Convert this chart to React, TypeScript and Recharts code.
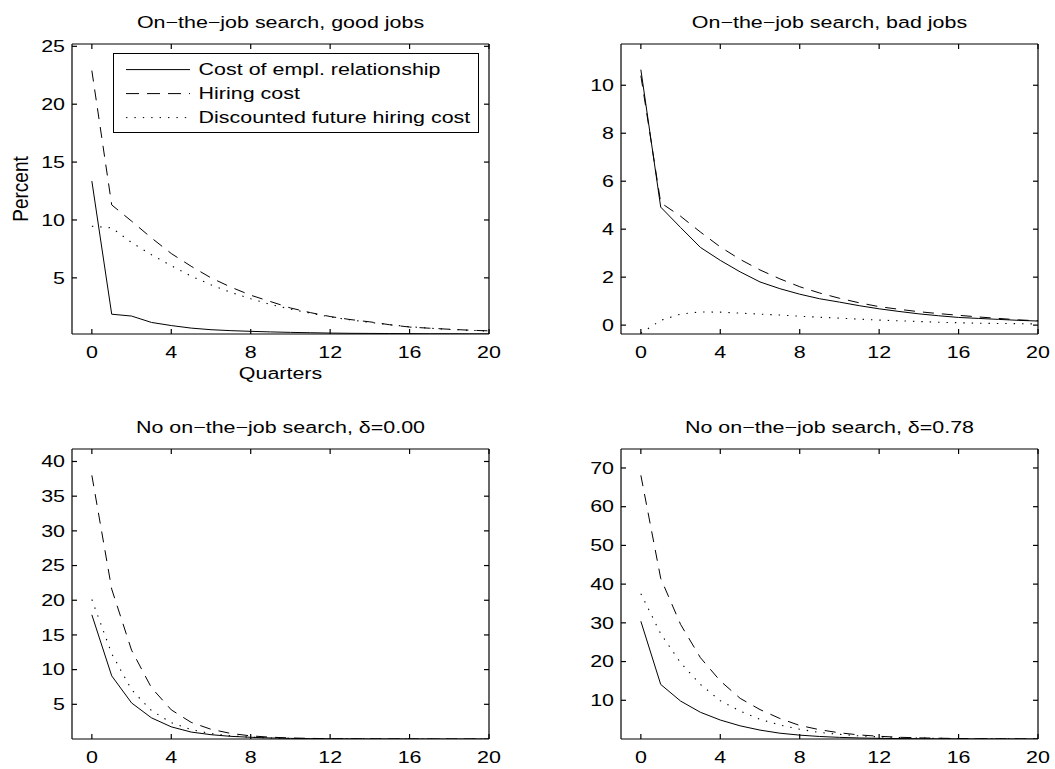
import React from "react";
import { LineChart, Line, XAxis, YAxis, Legend } from "recharts";

// quarters after the shock
const quarters = [0, 1, 2, 3, 4, 5, 6, 7, 8, 9, 10, 11, 12, 13, 14, 15, 16, 17, 18, 19, 20];
const xTicks = [0, 4, 8, 12, 16, 20];

// on-the-job search, good jobs
const goodCost = [13.36, 1.86, 1.7, 1.15, 0.88, 0.66, 0.52, 0.44, 0.38, 0.33, 0.29, 0.26, 0.23, 0.21, 0.2, 0.19, 0.18, 0.17, 0.17, 0.16, 0.16];
const goodHiring = [22.9, 11.3, 9.9, 8.45, 7.1, 6.0, 5.0, 4.2, 3.5, 2.95, 2.4, 2.0, 1.66, 1.4, 1.2, 0.95, 0.75, 0.65, 0.56, 0.48, 0.42];
const goodFuture = [9.46, 9.32, 8.05, 7.0, 6.05, 5.15, 4.4, 3.75, 3.2, 2.7, 2.3, 1.95, 1.62, 1.38, 1.15, 0.95, 0.78, 0.65, 0.55, 0.47, 0.4];
const goodTicks = [5, 10, 15, 20, 25];

// on-the-job search, bad jobs
const badCost = [10.65, 4.92, 4.07, 3.24, 2.7, 2.22, 1.8, 1.52, 1.29, 1.1, 0.96, 0.81, 0.68, 0.57, 0.47, 0.39, 0.32, 0.28, 0.24, 0.2, 0.17];
const badHiring = [10.4, 5.1, 4.54, 3.88, 3.26, 2.74, 2.3, 1.93, 1.6, 1.34, 1.12, 0.93, 0.77, 0.66, 0.56, 0.48, 0.41, 0.34, 0.28, 0.22, 0.18];
const badFuture = [-0.34, 0.2, 0.46, 0.55, 0.54, 0.5, 0.46, 0.42, 0.37, 0.33, 0.29, 0.25, 0.21, 0.18, 0.15, 0.12, 0.1, 0.08, 0.07, 0.06, 0.05];
const badTicks = [0, 2, 4, 6, 8, 10];

// no on-the-job search, delta = 0.00
const noneCost = [17.9, 9.1, 5.2, 3.05, 1.75, 1.0, 0.62, 0.38, 0.25, 0.15, 0.09, 0.05, 0.03, 0.02, 0.01, 0.01, 0, 0, 0, 0, 0];
const noneHiring = [38.0, 21.6, 12.8, 7.4, 4.2, 2.4, 1.4, 0.8, 0.45, 0.26, 0.15, 0.09, 0.05, 0.03, 0.02, 0.01, 0.01, 0, 0, 0, 0];
const noneFuture = [20.1, 12.3, 7.1, 4.1, 2.35, 1.35, 0.78, 0.45, 0.26, 0.15, 0.09, 0.05, 0.03, 0.02, 0.01, 0.01, 0, 0, 0, 0, 0];
const noneTicks = [5, 10, 15, 20, 25, 30, 35, 40];

// no on-the-job search, delta = 0.78
const deltaCost = [30.4, 14.1, 9.8, 6.9, 4.9, 3.4, 2.3, 1.5, 1.0, 0.65, 0.42, 0.27, 0.17, 0.11, 0.07, 0.04, 0.03, 0.02, 0.01, 0.01, 0];
const deltaHiring = [68.1, 41.5, 29.6, 21.0, 15.0, 10.5, 7.6, 5.3, 3.5, 2.4, 1.6, 1.05, 0.7, 0.45, 0.3, 0.2, 0.13, 0.08, 0.05, 0.03, 0.02];
const deltaFuture = [37.5, 27.2, 19.7, 14.1, 9.9, 7.2, 5.1, 3.6, 2.5, 1.7, 1.2, 0.8, 0.55, 0.37, 0.25, 0.17, 0.11, 0.07, 0.05, 0.03, 0.02];
const deltaTicks = [10, 20, 30, 40, 50, 60, 70];

const seriesNames = ["Cost of empl. relationship", "Hiring cost", "Discounted future hiring cost"];

const FONT = "'Liberation Sans', Arial, Helvetica, sans-serif";
const FS = 16.5;
const STRETCH = 1.3; // the figure is wider than tall, text looks stretched
const PLOT_W = 417;
const PLOT_H = 290;
const AX_W = 62;
const TOP = 40;
const RIGHT = 14;
const BOTTOM = 50;

const DASH = "11 8";
const DOT = "1.4 7";

const toRows = (a: number[], b: number[], c: number[]) =>
  quarters.map((q, i) => ({ q, cost: a[i], hiring: b[i], future: c[i] }));

const XTick = ({ x, y, payload }: any) => (
  <text transform={`translate(${x},${y}) scale(${STRETCH},1)`} textAnchor="middle" dy="0.71em" fontFamily={FONT} fontSize={FS} fill="#000">
    {payload.value}
  </text>
);

const YTick = ({ x, y, payload }: any) => (
  <text transform={`translate(${x},${y}) scale(${STRETCH},1)`} textAnchor="end" dy="0.35em" fontFamily={FONT} fontSize={FS} fill="#000">
    {payload.value}
  </text>
);

const NoTick = () => <g />;

const Title = ({ text }: { text: string }) => (
  <text transform={`translate(${AX_W + PLOT_W / 2},${TOP - 16}) scale(${STRETCH},1)`} textAnchor="middle" fontFamily={FONT} fontSize={FS} fill="#000">
    {text}
  </text>
);

const QuartersLabel = () => (
  <text transform={`translate(${AX_W + PLOT_W / 2},${TOP + PLOT_H + 45}) scale(${STRETCH},1)`} textAnchor="middle" fontFamily={FONT} fontSize={FS} fill="#000">
    Quarters
  </text>
);

const PercentLabel = () => (
  <text transform={`translate(${AX_W - 51.3},${TOP + PLOT_H / 2}) scale(1.12,1) rotate(-90)`} textAnchor="middle" dy="0.35em" fontFamily={FONT} fontSize={19} fill="#000">
    Percent
  </text>
);

const LegendBox = () => (
  <svg width={366} height={80} style={{ display: "block" }}>
    <rect x={0.5} y={0.5} width={365} height={79} fill="#fff" stroke="#000" />
    {seriesNames.map((name, i) => (
      <g key={name}>
        <line x1={13} x2={77} y1={16.6 + 24 * i} y2={16.6 + 24 * i} stroke="#000" strokeDasharray={i === 0 ? undefined : i === 1 ? "13 8" : DOT} />
        <text transform={`translate(85.6,${16.6 + 24 * i}) scale(${STRETCH},1)`} dy="0.35em" fontFamily={FONT} fontSize={FS} fill="#000">
          {name}
        </text>
      </g>
    ))}
  </svg>
);

const axisStyle = { stroke: "#000", strokeWidth: 1.2 };

interface PanelProps {
  left: number;
  top: number;
  title: string;
  rows: any[];
  yDomain: [number, number];
  yTicks: number[];
  labels?: boolean;
}

function Panel({ left, top, title, rows, yDomain, yTicks, labels }: PanelProps) {
  return (
    <div style={{ position: "absolute", left: left - AX_W, top: top - TOP }}>
      <LineChart
        width={AX_W + PLOT_W + 1 + RIGHT - 1}
        height={TOP + PLOT_H + BOTTOM}
        data={rows}
        margin={{ top: TOP - 1, right: RIGHT - 1, bottom: 0, left: 0 }}
      >
        <XAxis xAxisId="b" dataKey="q" type="number" domain={[-1, 20]} ticks={xTicks} interval={0}
          tickSize={-5} tickMargin={17} tick={<XTick />} axisLine={axisStyle} tickLine={axisStyle} height={BOTTOM}
          label={labels ? <QuartersLabel /> : undefined} />
        <XAxis xAxisId="t" orientation="top" dataKey="q" type="number" domain={[-1, 20]} ticks={xTicks} interval={0}
          tickSize={-5} tick={<NoTick />} axisLine={axisStyle} tickLine={axisStyle} height={1}
          label={<Title text={title} />} />
        <YAxis yAxisId="l" type="number" domain={yDomain} allowDataOverflow ticks={yTicks} interval={0}
          tickSize={-5} tickMargin={12} tick={<YTick />} axisLine={axisStyle} tickLine={axisStyle} width={AX_W}
          label={labels ? <PercentLabel /> : undefined} />
        <YAxis yAxisId="r" orientation="right" type="number" domain={yDomain} allowDataOverflow ticks={yTicks} interval={0}
          tickSize={-5} tick={<NoTick />} axisLine={axisStyle} tickLine={axisStyle} width={1} />
        <Line xAxisId="b" yAxisId="l" dataKey="cost" type="linear" stroke="#000" strokeWidth={1} dot={false} isAnimationActive={false} />
        <Line xAxisId="b" yAxisId="l" dataKey="hiring" type="linear" stroke="#000" strokeWidth={1} strokeDasharray={DASH} dot={false} isAnimationActive={false} />
        <Line xAxisId="b" yAxisId="l" dataKey="future" type="linear" stroke="#000" strokeWidth={1.1} strokeDasharray={DOT} dot={false} isAnimationActive={false} />
        {labels && (
          <Legend layout="vertical" align="center" verticalAlign="middle" content={<LegendBox />}
            wrapperStyle={{ left: 112.7 - (left - AX_W), top: 52.7 - (top - TOP), width: 366, height: 80 }} />
        )}
      </LineChart>
    </div>
  );
}

export default function App() {
  return (
    <div style={{ position: "absolute", left: 0, top: 0, width: 1055, height: 769, background: "#fff", overflow: "hidden" }}>
      <Panel left={72} top={43.5} title="On−the−job search, good jobs" rows={toRows(goodCost, goodHiring, goodFuture)}
        yDomain={[0.15, 25.2]} yTicks={goodTicks} labels />
      <Panel left={620.5} top={43.5} title="On−the−job search, bad jobs" rows={toRows(badCost, badHiring, badFuture)}
        yDomain={[-0.37, 11.72]} yTicks={badTicks} />
      <Panel left={72} top={448.5} title="No on−the−job search, δ=0.00" rows={toRows(noneCost, noneHiring, noneFuture)}
        yDomain={[0, 41.8]} yTicks={noneTicks} />
      <Panel left={620.5} top={448.5} title="No on−the−job search, δ=0.78" rows={toRows(deltaCost, deltaHiring, deltaFuture)}
        yDomain={[0, 74.9]} yTicks={deltaTicks} />
    </div>
  );
}
